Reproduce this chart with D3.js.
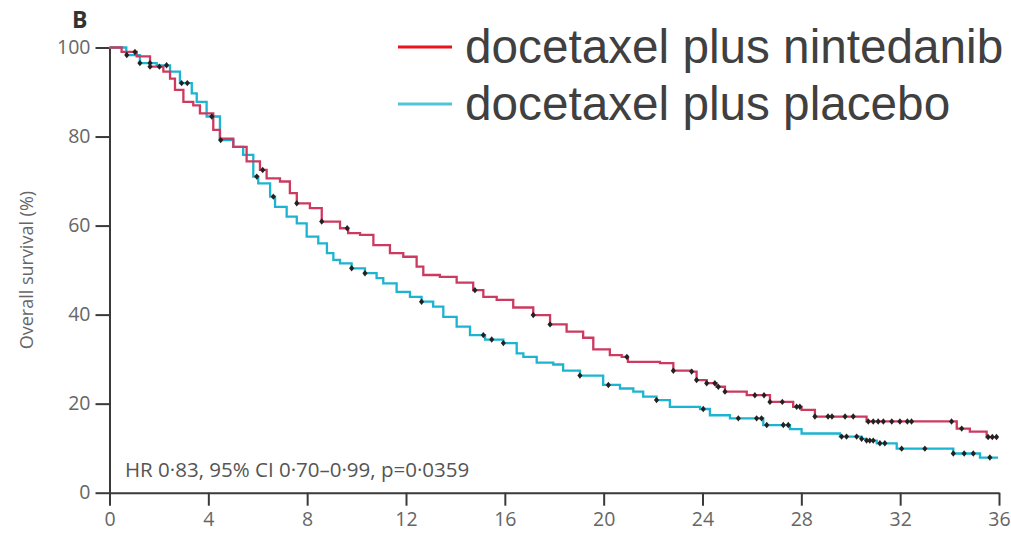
<!DOCTYPE html>
<html><head><meta charset="utf-8">
<script src="https://cdn.jsdelivr.net/npm/d3@7"></script>
<style>body{margin:0;background:#fff}svg{display:block}</style>
</head><body>
<svg id="c" width="1011" height="536"></svg>
<script>
// ---- data ----
const xTicks = [0,4,8,12,16,20,24,28,32,36];
const yTicks = [0,20,40,60,80,100];
const seriesNames = ["docetaxel plus nintedanib","docetaxel plus placebo"];
// step points: time (months) and survival (%) after the step
const ninTime = [0,0.49,1.10,1.64,2.18,2.45,2.65,2.99,3.39,3.66,4.20,4.47,5.01,5.55,6.09,6.36,6.90,7.30,7.58,8.11,8.59,9.33,9.66,10.14,10.68,11.35,11.89,12.43,12.70,13.37,14.05,14.72,15.13,15.67,16.34,17.15,17.83,18.50,19.17,19.58,20.25,20.73,20.98,22.28,22.82,23.56,23.76,24.17,24.57,24.91,25.79,26.73,27.67,28.01,28.55,30.64,34.29,34.82,35.50];
const ninSurv = [100,99,98,95.7,94.6,93,90.5,87.8,87,85.2,81.5,79.5,77.7,74.4,72.5,70.6,69.9,67.3,65,63.9,60.9,59.4,58.3,57.9,55.6,53.8,53,50.8,48.9,48.5,47.2,45.5,44,43.3,41.6,39.9,37.8,36.2,34.8,32.2,30.9,30.5,29.4,29.1,27.4,27.2,25.3,24.6,23.8,22.7,21.9,20.4,19.3,18.6,17.1,16.0,14.4,13.7,12.5];
const ninCensor = [1.03,1.64,2.02,6.20,7.58,8.59,9.62,14.79,17.15,17.83,20.94,22.82,23.56,23.76,24.17,24.50,24.64,24.91,26.12,26.49,26.73,27.23,27.81,27.94,28.55,29.08,29.24,29.77,30.10,30.71,30.91,31.11,31.32,31.66,31.99,32.29,32.46,34.08,34.49,35.56,35.73,35.90];
const plaTime = [0,0.68,1.23,1.91,2.45,2.85,3.33,3.53,3.93,4.47,5.01,5.41,5.82,6.02,6.50,6.70,7.17,7.58,7.98,8.45,8.80,9.06,9.33,9.80,10.34,10.81,11.08,11.62,12.16,12.63,13.10,13.51,14.05,14.59,15.20,15.94,16.48,16.75,17.29,17.96,18.36,19.04,19.98,20.66,21.20,21.60,22.14,22.68,23.90,24.30,25.11,26.46,27.54,28.01,29.56,30.44,30.64,31.05,31.86,34.15,35.23];
const plaSurv = [100,98.3,96.5,96,94.6,92,89.7,87.8,84.5,79.2,77.7,75.9,71,69.5,66.5,64.2,62,60.5,57.5,56,53.8,52.3,51.5,50.4,49.3,48.2,47,45.1,44,42.9,41.8,39.5,37.3,35.4,34.4,33.6,31.3,30.5,29.2,28.8,27.4,26.3,24.2,23.4,22.7,21.6,20.8,19.3,18.8,17.4,16.7,15.2,14.3,13.3,12.6,12.1,11.7,11.1,9.9,8.8,7.9];
const plaCensor = [0.70,1.23,1.64,2.31,2.92,3.15,4.14,4.50,5.96,6.63,9.80,10.34,12.63,15.13,15.47,15.94,19.04,20.19,22.14,24.03,25.45,26.19,26.39,26.60,27.27,27.47,29.63,29.83,30.24,30.44,30.64,30.77,30.91,31.18,31.38,32.06,33.00,34.15,34.59,34.96,35.63];
const endTime = 35.96;
const annotation = "HR 0·83, 95% CI 0·70–0·99, p=0·0359";

// ---- drawing ----
const svg = d3.select("#c");
const x = d3.scaleLinear().domain([0,36]).range([109.5,999]);
const y = d3.scaleLinear().domain([0,100]).range([492.7,47.5]);
const axisCol = "#3a3a3a", labCol = "#666";
const font = "'Open Sans', sans-serif";

const xAxis = svg.append("g").attr("transform",`translate(0,${y(0)})`)
  .call(d3.axisBottom(x).tickValues(xTicks).tickSize(13).tickSizeOuter(0).tickPadding(6));
const yAxis = svg.append("g").attr("transform",`translate(${x(0)},0)`)
  .call(d3.axisLeft(y).tickValues(yTicks).tickSize(14).tickSizeOuter(0).tickPadding(5));
[xAxis,yAxis].forEach(a=>{
  a.select(".domain").attr("stroke",axisCol).attr("stroke-width",2);
  a.selectAll(".tick line").attr("stroke",axisCol).attr("stroke-width",2);
  a.selectAll(".tick text").attr("fill",labCol).style("font-family",font).style("font-size","19.5px");
});

svg.append("text").attr("transform",`translate(33,${y(50)}) rotate(-90)`)
  .attr("text-anchor","middle").attr("fill",labCol)
  .style("font-family",font).style("font-size","18px").text("Overall survival (%)");

svg.append("text").attr("x",72).attr("y",28).attr("fill","#333")
  .style("font-family",font).style("font-size","23px").style("font-weight","700").text("B");

svg.append("text").attr("x",125).attr("y",477).attr("fill","#555")
  .style("font-family",font).style("font-size","20.5px").text(annotation);

function mk(times, surv){
  const pts = times.map((t,i)=>[t,surv[i]]);
  pts.push([endTime, surv[surv.length-1]]);
  return pts;
}
function valAt(times, surv, t){
  const i = d3.bisectRight(times, t) - 1;
  return surv[Math.max(0,i)];
}
const line = d3.line().x(d=>x(d[0])).y(d=>y(d[1])).curve(d3.curveStepAfter);
const series = [
  {t:plaTime,s:plaSurv,c:plaCensor,col:"#1cb4d0"},
  {t:ninTime,s:ninSurv,c:ninCensor,col:"#cc3a60"}
];
series.forEach(se=>{
  svg.append("path").datum(mk(se.t,se.s)).attr("d",line)
    .attr("fill","none").attr("stroke",se.col).attr("stroke-width",2.3);
});
series.forEach(se=>{
  const g = svg.append("g");
  se.c.forEach(t=>{
    const cx = x(t), cy = y(valAt(se.t,se.s,t));
    g.append("path").attr("d",`M${cx},${cy-3.2}L${cx+2.6},${cy}L${cx},${cy+3.2}L${cx-2.6},${cy}Z`)
      .attr("fill","#222");
  });
});

// legend
const legCols = ["#e8141c","#4cc6d6"];
seriesNames.forEach((n,i)=>{
  const ly = 47 + i*57;
  svg.append("line").attr("x1",398).attr("x2",452).attr("y1",ly).attr("y2",ly)
    .attr("stroke",legCols[i]).attr("stroke-width",3);
  svg.append("text").attr("x",465).attr("y",ly+16).attr("fill","#404040")
    .style("font-family","'Liberation Sans', Arial, sans-serif").style("font-size","47.7px").text(n);
});
</script>
</body></html>
